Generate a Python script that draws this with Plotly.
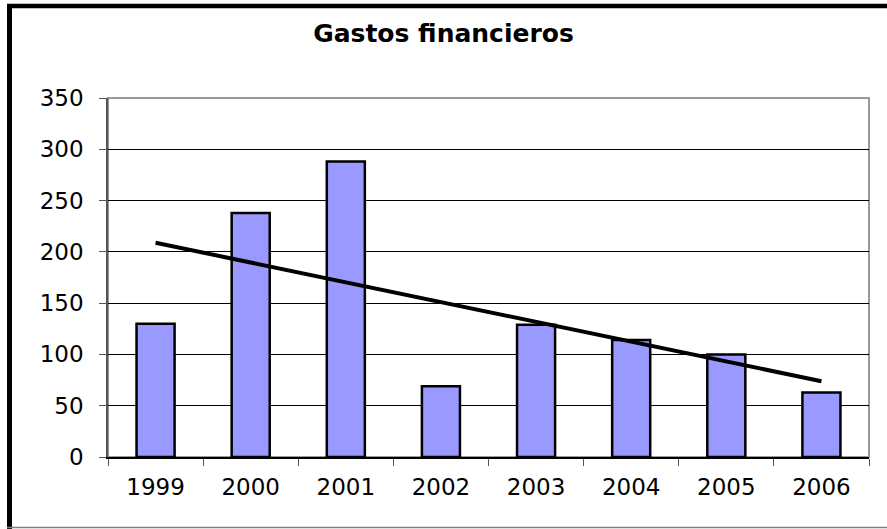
import numpy as np
import plotly.graph_objects as go

# ---- data ----
years = ["1999", "2000", "2001", "2002", "2003", "2004", "2005", "2006"]
gastos = [130, 238, 288, 69, 129, 114, 100, 63]
y_ticks = [0, 50, 100, 150, 200, 250, 300, 350]
title_text = "Gastos financieros"

# linear trendline (Excel style) over category index
idx = np.arange(1, len(years) + 1)
slope, intercept = np.polyfit(idx, gastos, 1)
trend = slope * idx + intercept

W, H = 887, 529
L, R, T, B = 108, 18, 98, 72
pw, ph = W - L - R, H - T - B


def px(x):
    return (x - L) / pw


def py(y):
    return (H - B - y) / ph


fig = go.Figure()
fig.add_trace(go.Bar(
    x=years, y=gastos,
    marker=dict(color="#9999FF", line=dict(color="#000000", width=2.5)),
    showlegend=False,
))
fig.add_trace(go.Scatter(
    x=years, y=trend, mode="lines",
    line=dict(color="#000000", width=4),
    showlegend=False,
))

shapes = [
    # plot area border (gray)
    dict(type="rect", xref="paper", yref="paper", x0=0, x1=1, y0=0, y1=1,
         line=dict(color="#9a9a9a", width=2), layer="below"),
    # outer chart border: thick black top & left, thin gray bottom
    dict(type="line", xref="paper", yref="paper", x0=px(7), x1=px(W), y0=py(6), y1=py(6),
         line=dict(color="#000000", width=4.5)),
    dict(type="line", xref="paper", yref="paper", x0=px(9.5), x1=px(9.5), y0=py(4), y1=py(H),
         line=dict(color="#000000", width=5)),
    dict(type="line", xref="paper", yref="paper", x0=px(7), x1=px(W), y0=py(527.5), y1=py(527.5),
         line=dict(color="#808080", width=1.5)),
]

fig.update_layout(
    width=W, height=H,
    margin=dict(l=L, r=R, t=T, b=B, pad=0),
    paper_bgcolor="#FFFFFF", plot_bgcolor="#FFFFFF",
    bargap=0.6,
    title=dict(text="<b>" + title_text + "</b>", x=0.5, xanchor="center",
               y=1 - 33 / H, yanchor="middle",
               font=dict(family="DejaVu Sans, Arial, sans-serif", size=25, color="#000000")),
    shapes=shapes,
    font=dict(family="DejaVu Sans, Arial, sans-serif", size=23, color="#000000"),
)
fig.update_xaxes(
    type="category", tickson="boundaries", ticks="outside", ticklen=7, tickwidth=1,
    tickcolor="#555555", showgrid=False, showline=True, linecolor="#000000", linewidth=1.5,
    tickfont=dict(size=23), ticklabelstandoff=9,
)
fig.update_yaxes(
    range=[0, 350], tickvals=y_ticks, ticks="outside", ticklen=7, tickwidth=1,
    tickcolor="#555555", showgrid=True, gridcolor="#000000", gridwidth=1,
    showline=True, linecolor="#555555", linewidth=1.5, zeroline=False,
    tickfont=dict(size=23), ticklabelstandoff=11,
)

fig.write_html(
    "out.html",
    config={"displayModeBar": False},
    post_script="document.body.style.margin='0';document.body.style.overflow='hidden';",
)
